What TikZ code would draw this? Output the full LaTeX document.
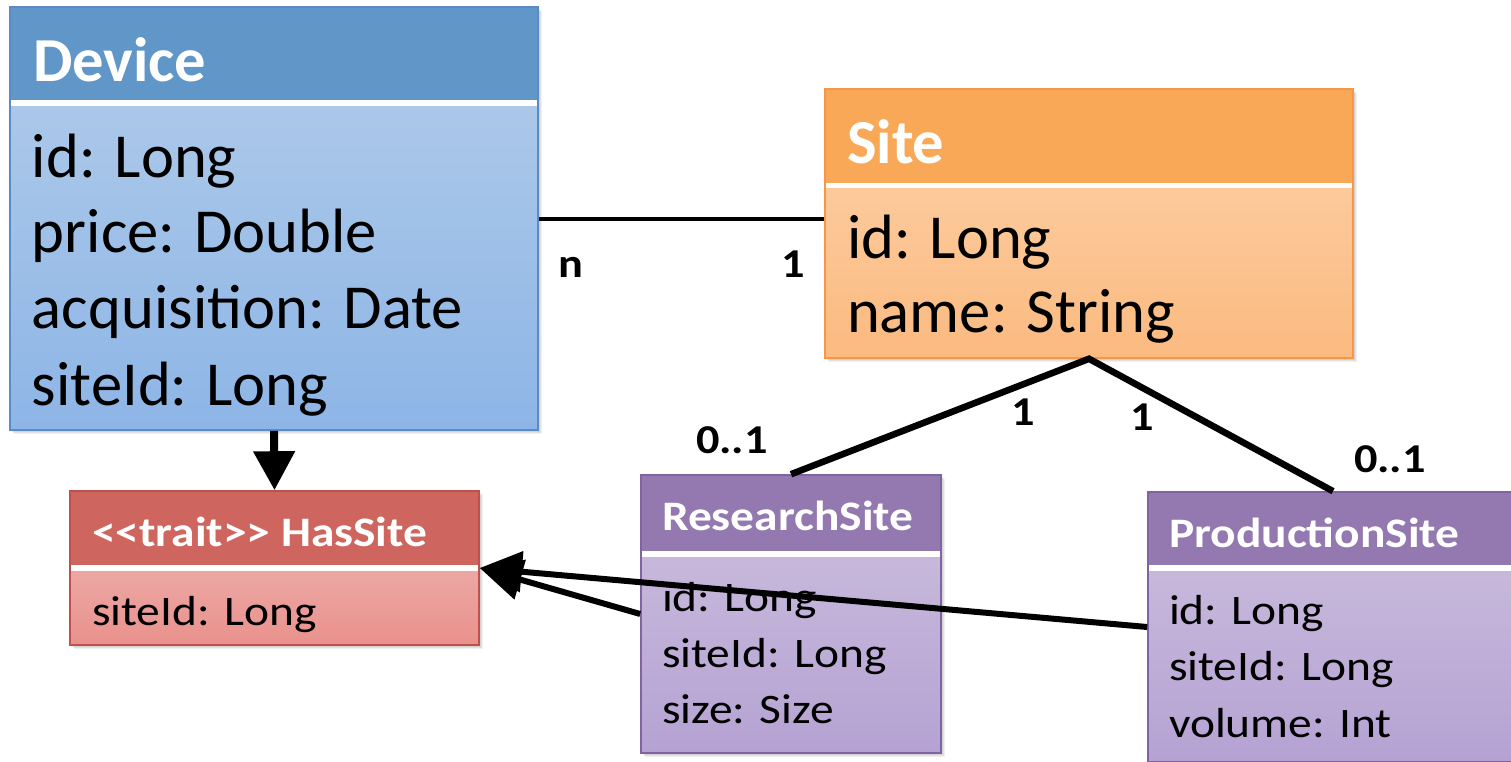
\documentclass[tikz,border=0pt]{standalone}
\usepackage{graphicx}
\usepackage{fontspec}
\setmainfont{Carlito}
\usetikzlibrary{arrows.meta,fit}

% palettes: header fill, body gradient (top/bottom), outline
\definecolor{devhead}{HTML}{6096C8}
\definecolor{devtop}{HTML}{ABC8E9}
\definecolor{devbot}{HTML}{8DB5E6}
\definecolor{devedge}{HTML}{5A8BC8}
\definecolor{sitehead}{HTML}{F9A857}
\definecolor{sitetop}{HTML}{FCCA9C}
\definecolor{sitebot}{HTML}{FBBA80}
\definecolor{siteedge}{HTML}{F79646}
\definecolor{traithead}{HTML}{CE665F}
\definecolor{traittop}{HTML}{ECA8A4}
\definecolor{traitbot}{HTML}{E9918C}
\definecolor{traitedge}{HTML}{C0504D}
\definecolor{subhead}{HTML}{9379B0}
\definecolor{subtop}{HTML}{C7B8DB}
\definecolor{subbot}{HTML}{B5A2D3}
\definecolor{subedge}{HTML}{8064A2}

\newcommand\bigtxt{\fontsize{31.3}{31.3}\selectfont}
\newcommand\smalltxt{\fontsize{21}{21}\selectfont}
\newcommand\multtxt{\fontsize{20.5}{20.5}\selectfont}
\newcommand\wide[1]{\scalebox{1.13}[1]{#1}}

% class box: name, left, top, right, bottom, separator y, palette prefix
\newcommand\classbox[7]{%
  \foreach \s in {1,2,3,4}
    \fill[black, opacity=0.06] (#2+\s,#3+\s) rectangle (#4+\s,#5+\s);
  \fill[#7head] (#2,#3) rectangle (#4,#6);
  \shade[top color=#7top, bottom color=#7bot] (#2,#6) rectangle (#4,#5);
  \draw[white, line width=2.6pt] (#2,#6) -- (#4,#6);
  \node[fit={(#2,#3) (#4,#5)}, inner sep=0pt, draw=#7edge, line width=0.8pt] (#1) {};
}

\tikzset{
  txt/.style={anchor=base west, inner sep=0pt, outer sep=0pt},
  head/.style={txt, text=white, font=\bfseries},
  mult/.style={txt, font=\multtxt\bfseries},
  assoc/.style={line width=3.3pt},
  realize/.style={line width=3pt, -{Triangle[length=21pt,width=20pt]}},
}

\begin{document}
\begin{tikzpicture}[x=0.5pt, y=-0.5pt]
\useasboundingbox (0,0) rectangle (1511,761);
\clip (0,0) rectangle (1511,761);
\fill[white] (0,0) rectangle (1511,761);

% --- classes ---
\classbox{device}{10}{7}{538}{430}{103}{dev}
\node[head] (devT) at (33,81) {\bigtxt Device};
\node[txt] (devA) at (32,177) {\bigtxt id: Long};
\node[txt] (devB) at (32,252) {\bigtxt price: Double};
\node[txt] (devC) at (32,328) {\bigtxt acquisition: Date};
\node[txt] (devD) at (32,405) {\bigtxt siteId: Long};

\classbox{site}{825}{89}{1353}{358}{185.5}{site}
\node[head] (siteT) at (847,163) {\bigtxt Site};
\node[txt] (siteA) at (847,258) {\bigtxt id: Long};
\node[txt] (siteB) at (847,332) {\bigtxt name: String};

\classbox{hassite}{70}{491}{479}{645}{568}{trait}
\node[head] (hasT) at (92,546) {\smalltxt\wide{<{}<trait>{}> HasSite}};
\node[txt] (hasA) at (92,625) {\smalltxt\wide{siteId: Long}};

\classbox{research}{641}{475}{941}{753}{554}{sub}
\node[head] (resT) at (662,530) {\smalltxt\wide{ResearchSite}};
\node[txt] (resA) at (662,611) {\smalltxt\wide{id: Long}};
\node[txt] (resB) at (662,667) {\smalltxt\wide{siteId: Long}};
\node[txt] (resC) at (662,723) {\smalltxt\wide{size: Size}};

\classbox{prod}{1148}{492}{1518}{762}{568}{sub}
\node[head] (prodT) at (1169,547) {\smalltxt\wide{ProductionSite}};
\node[txt] (prodA) at (1169,624) {\smalltxt\wide{id: Long}};
\node[txt] (prodB) at (1169,680) {\smalltxt\wide{siteId: Long}};
\node[txt] (prodC) at (1169,737) {\smalltxt\wide{volume: Int}};

% --- multiplicities ---
\node[mult] (mN) at (558,277) {\wide{n}};
\node[mult] (mOne) at (781,277) {\wide{1}};
\node[mult] (mResZ) at (696,453) {\wide{0..1}};
\node[mult] (mResO) at (1011,425) {\wide{1}};
\node[mult] (mProdO) at (1130,430) {\wide{1}};
\node[mult] (mProdZ) at (1354,472) {\wide{0..1}};

% --- connectors ---
\draw[line width=2pt] (device.east) -- (device.east -| site.west);
\draw[assoc, line join=miter] (research.north) -- (site.south) -- (prod.north);
\draw[line width=4pt, -{Triangle[length=19.5pt,width=20pt]}] (device.south) -- (hassite.north);
\draw[realize] (research.west) -- (hassite.east);
\draw[realize] (prod.west) -- (hassite.east);
\end{tikzpicture}
\end{document}
